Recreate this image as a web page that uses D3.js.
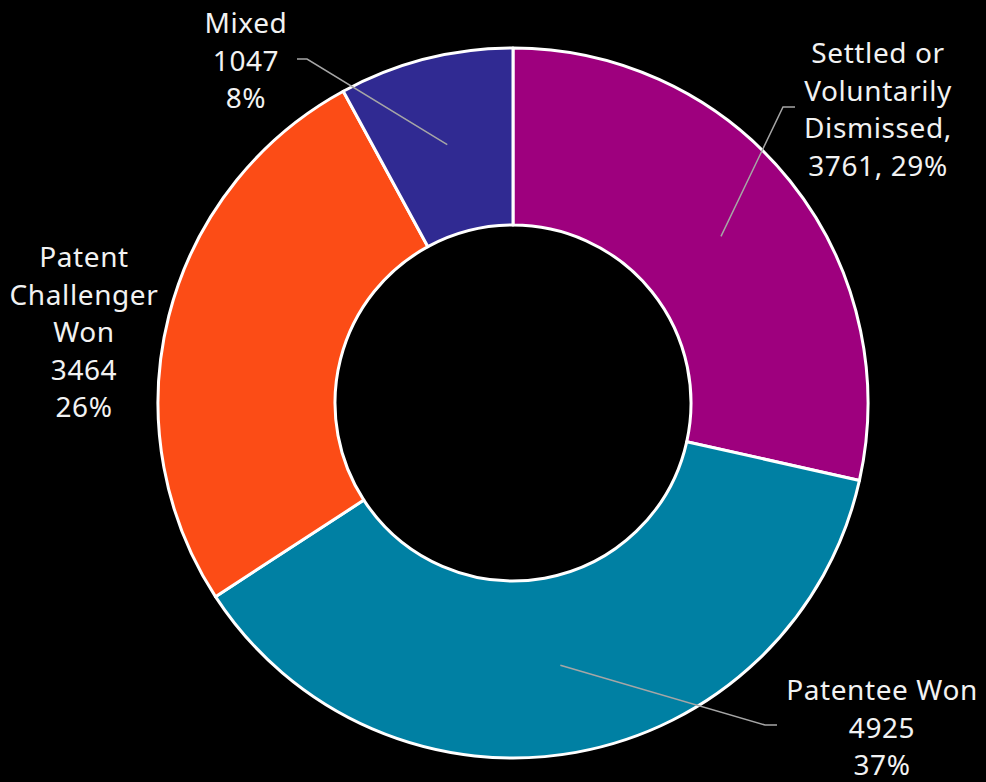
<!DOCTYPE html>
<html>
<head>
<meta charset="utf-8">
<script src="https://cdn.jsdelivr.net/npm/d3@7"></script>
<style>
  html, body { margin: 0; padding: 0; background: #000; }
  svg { display: block; }
  text { font-family: "Noto Sans", "Open Sans", sans-serif; font-size: 28px; letter-spacing: 0.6px; fill: #f2f2f2; }
</style>
</head>
<body>
<svg id="chart" width="986" height="782"></svg>
<script>
// Case outcomes (clockwise from 12 o'clock)
const categories = ["Settled or Voluntarily Dismissed", "Patentee Won", "Patent Challenger Won", "Mixed"];
const counts = [3761, 4925, 3464, 1047];
const percentLabels = ["29%", "37%", "26%", "8%"];
const colors = ["#9e007e", "#0080a3", "#fc4c16", "#302a92"];

// Label text lines per slice
const labelLines = [
  ["Settled or", "Voluntarily", "Dismissed,", "3761, 29%"],
  ["Patentee Won", "4925", "37%"],
  ["Patent", "Challenger", "Won", "3464", "26%"],
  ["Mixed", "1047", "8%"]
];

// Label placement: x center, first baseline; leader elbow and end (null = no leader)
const labelLayout = [
  { x: 878, y: 63, elbow: [783, 107], end: [795, 107] },
  { x: 882, y: 700, elbow: [765, 725], end: [777, 725] },
  { x: 84, y: 267, elbow: null, end: null },
  { x: 246, y: 33, elbow: [307, 59], end: [297, 59] }
];

const width = 986, height = 782;
const cx = 513, cy = 403;
const outerR = 355, innerR = 178;
const lineGap = 37.5;

const svg = d3.select("#chart");
svg.append("rect").attr("width", width).attr("height", height).attr("fill", "#000");

const data = categories.map((c, i) => ({ name: c, value: counts[i], color: colors[i], i }));

const pie = d3.pie().value(d => d.value).sort(null);
const arc = d3.arc().innerRadius(innerR).outerRadius(outerR);
const arcs = pie(data);

const g = svg.append("g").attr("transform", `translate(${cx},${cy})`);

g.selectAll("path.slice")
  .data(arcs)
  .join("path")
  .attr("class", "slice")
  .attr("d", arc)
  .attr("fill", d => d.data.color)
  .attr("stroke", "#fff")
  .attr("stroke-width", 3)
  .attr("stroke-linejoin", "round");

// Leader lines from slice centroids
arcs.forEach((a, i) => {
  const lay = labelLayout[i];
  if (!lay.elbow) return;
  const c = arc.centroid(a);
  const pts = [[cx + c[0], cy + c[1]], lay.elbow, lay.end];
  svg.append("path")
    .attr("d", d3.line()(pts))
    .attr("fill", "none")
    .attr("stroke", "#a6a6a6")
    .attr("stroke-width", 1.5);
});

// Labels
labelLines.forEach((lines, i) => {
  const lay = labelLayout[i];
  const t = svg.append("text")
    .attr("text-anchor", "middle")
    .attr("x", lay.x)
    .attr("y", lay.y);
  lines.forEach((ln, k) => {
    t.append("tspan").attr("x", lay.x).attr("y", lay.y + k * lineGap).text(ln);
  });
});
</script>
</body>
</html>
